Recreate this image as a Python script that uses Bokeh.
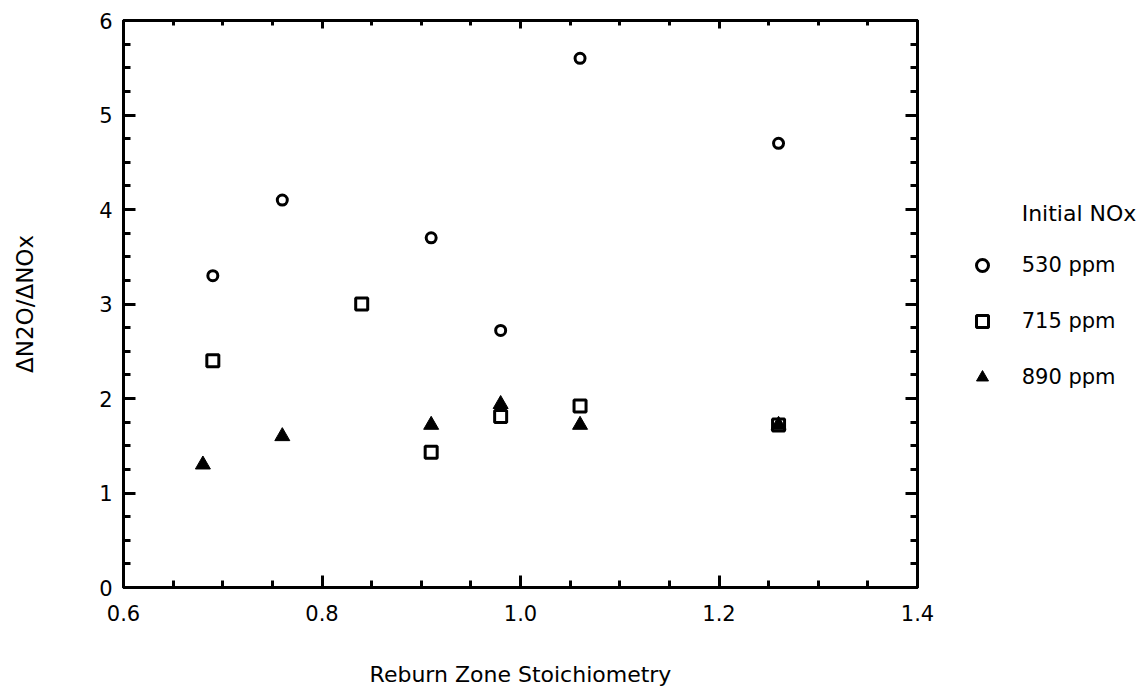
from bokeh.plotting import figure
from bokeh.models import (Range1d, LinearAxis, FixedTicker, PrintfTickFormatter,
                          CustomJSTickFormatter, Legend, LegendItem)
from bokeh.embed import file_html
from bokeh.resources import INLINE

# ---- data ----
x_530 = [0.69, 0.76, 0.91, 0.98, 1.06, 1.26]
y_530 = [3.30, 4.10, 3.70, 2.72, 5.60, 4.70]

x_715 = [0.69, 0.84, 0.91, 0.98, 1.06, 1.26]
y_715 = [2.40, 3.00, 1.43, 1.81, 1.92, 1.72]

x_890 = [0.68, 0.76, 0.91, 0.98, 1.06, 1.26]
y_890 = [1.30, 1.60, 1.72, 1.94, 1.72, 1.72]

series_labels = ["530 ppm", "715 ppm", "890 ppm"]
legend_title = "Initial NOx"
x_title = "Reburn Zone Stoichiometry"
y_title = "\u0394N2O/\u0394NOx"
x_major = [0.6, 0.8, 1.0, 1.2, 1.4]
x_minor = [0.65, 0.7, 0.75, 0.85, 0.9, 0.95, 1.05, 1.1, 1.15, 1.25, 1.3, 1.35]
y_major = [0, 1, 2, 3, 4, 5, 6]
y_minor = [v + f for v in range(6) for f in (0.25, 0.5, 0.75)]

FONT = "DejaVu Sans"

p = figure(width=1145, height=693, frame_width=794, frame_height=567,
           min_border_left=123, min_border_right=228, min_border_top=20,
           min_border_bottom=106,
           x_range=Range1d(0.6, 1.4), y_range=Range1d(0, 6),
           output_backend="svg", toolbar_location=None)
p.xgrid.visible = False
p.ygrid.visible = False
p.outline_line_color = "black"
p.outline_line_width = 3
p.background_fill_color = "white"
p.border_fill_color = "white"

xt = FixedTicker(ticks=x_major, minor_ticks=x_minor)
yt = FixedTicker(ticks=y_major, minor_ticks=y_minor)


def style(ax, major_len=12, minor_len=7):
    ax.axis_line_color = "black"
    ax.axis_line_width = 3
    ax.major_tick_line_color = "black"
    ax.major_tick_line_width = 3
    ax.minor_tick_line_color = "black"
    ax.minor_tick_line_width = 3
    ax.major_tick_in = major_len
    ax.major_tick_out = 0
    ax.minor_tick_in = minor_len
    ax.minor_tick_out = 0
    ax.major_label_text_font = FONT
    ax.major_label_text_font_size = "21px"
    ax.major_label_text_color = "black"
    ax.axis_label_text_font = FONT
    ax.axis_label_text_font_style = "normal"
    ax.axis_label_text_color = "black"


xa = p.xaxis[0]
xa.ticker = xt
xa.formatter = PrintfTickFormatter(format="%.1f")
style(xa)
xa.major_label_standoff = 17
xa.axis_label = x_title
xa.axis_label_text_font_size = "22px"
xa.axis_label_standoff = 38

ya = p.yaxis[0]
ya.ticker = yt
style(ya)
ya.major_label_standoff = 11
ya.axis_label = y_title
ya.axis_label_text_font_size = "23px"
ya.axis_label_standoff = 58

blank = CustomJSTickFormatter(code="return ''")
top = LinearAxis(ticker=xt, formatter=blank)
style(top, 8, 5)
p.add_layout(top, "above")
right = LinearAxis(ticker=yt, formatter=blank)
style(right, 12, 7)
p.add_layout(right, "right")

r1 = p.scatter(x_530, y_530, marker="circle", size=10, fill_color=None,
               line_color="black", line_width=3)
r2 = p.scatter(x_715, y_715, marker="square", size=12, fill_color=None,
               line_color="black", line_width=3)
r3 = p.scatter(x_890, y_890, marker="triangle", size=15, fill_color="black",
               line_color="black", line_width=1)

legend = Legend(items=[LegendItem(label=series_labels[0], renderers=[r1]),
                       LegendItem(label=series_labels[1], renderers=[r2]),
                       LegendItem(label=series_labels[2], renderers=[r3])],
                title="\u2002" * 5 + legend_title, location=(-175, 195))
legend.title_text_font = FONT
legend.title_text_font_size = "22px"
legend.title_text_font_style = "normal"
legend.title_text_color = "black"
legend.title_standoff = 24
legend.label_text_font = FONT
legend.label_text_font_size = "21px"
legend.label_text_color = "black"
legend.label_standoff = 25
legend.glyph_width = 30
legend.glyph_height = 30
legend.label_height = 30
legend.spacing = 26
legend.padding = 10
legend.margin = 0
legend.border_line_color = None
legend.background_fill_color = None
p.add_layout(legend, "right")

html = file_html(p, INLINE)
open("out.html", "w").write(html)
